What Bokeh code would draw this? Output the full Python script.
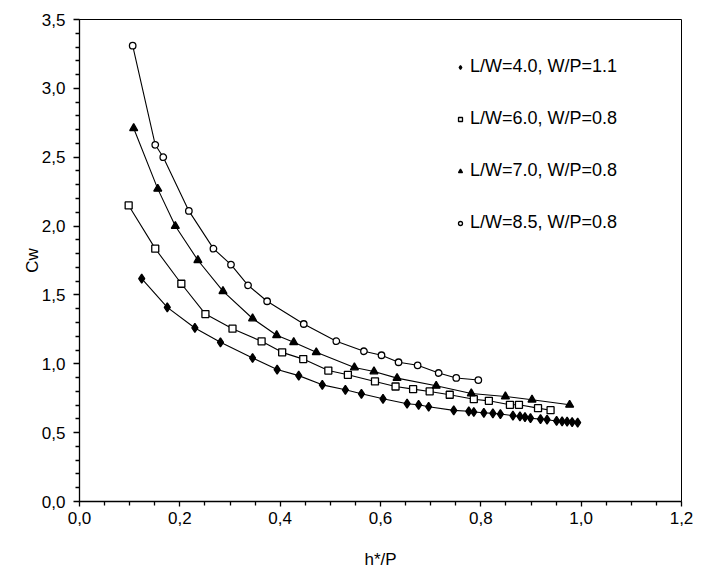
from bokeh.plotting import figure
from bokeh.models import CustomJSTickFormatter, Range1d, Legend, LegendItem, FixedTicker
from bokeh.embed import file_html
from bokeh.resources import INLINE

# Series data (h*/P, Cw)
x_lw40 = [0.124, 0.175, 0.230, 0.281, 0.345, 0.394, 0.437, 0.484, 0.530, 0.562, 0.605, 0.653,
          0.676, 0.696, 0.746, 0.776, 0.786, 0.806, 0.824, 0.839, 0.864, 0.878, 0.888, 0.899,
          0.919, 0.932, 0.951, 0.962, 0.972, 0.982, 0.993]
y_lw40 = [1.618, 1.410, 1.260, 1.156, 1.042, 0.958, 0.914, 0.847, 0.811, 0.782, 0.746, 0.710,
          0.702, 0.688, 0.662, 0.655, 0.650, 0.644, 0.640, 0.635, 0.623, 0.618, 0.613, 0.605,
          0.598, 0.594, 0.585, 0.582, 0.580, 0.577, 0.573]

x_lw60 = [0.098, 0.151, 0.203, 0.251, 0.305, 0.363, 0.404, 0.446, 0.496, 0.535, 0.589, 0.630,
          0.665, 0.698, 0.738, 0.786, 0.816, 0.858, 0.876, 0.914, 0.939]
y_lw60 = [2.150, 1.836, 1.581, 1.361, 1.255, 1.163, 1.083, 1.034, 0.951, 0.920, 0.872, 0.835,
          0.816, 0.799, 0.775, 0.743, 0.731, 0.702, 0.702, 0.678, 0.663]

x_lw70 = [0.108, 0.156, 0.191, 0.236, 0.286, 0.345, 0.393, 0.427, 0.472, 0.548, 0.587, 0.633,
          0.711, 0.781, 0.849, 0.902, 0.977]
y_lw70 = [2.710, 2.270, 2.000, 1.752, 1.527, 1.329, 1.207, 1.156, 1.083, 0.973, 0.944, 0.896,
          0.840, 0.784, 0.763, 0.739, 0.702]

x_lw85 = [0.106, 0.151, 0.167, 0.218, 0.267, 0.302, 0.336, 0.374, 0.447, 0.512, 0.567, 0.602,
          0.636, 0.674, 0.716, 0.751, 0.795]
y_lw85 = [3.310, 2.590, 2.500, 2.110, 1.836, 1.720, 1.570, 1.454, 1.289, 1.164, 1.091, 1.062,
          1.011, 0.989, 0.933, 0.897, 0.882]

labels = ["L/W=4.0, W/P=1.1", "L/W=6.0, W/P=0.8", "L/W=7.0, W/P=0.8", "L/W=8.5, W/P=0.8"]

x_ticks = [0.0, 0.2, 0.4, 0.6, 0.8, 1.0, 1.2]
x_minor = [0.05, 0.1, 0.15, 0.25, 0.3, 0.35, 0.45, 0.5, 0.55, 0.65, 0.7, 0.75,
           0.85, 0.9, 0.95, 1.05, 1.1, 1.15]
y_ticks = [0.0, 0.5, 1.0, 1.5, 2.0, 2.5, 3.0, 3.5]
y_minor = [0.1, 0.2, 0.3, 0.4, 0.6, 0.7, 0.8, 0.9, 1.1, 1.2, 1.3, 1.4, 1.6, 1.7, 1.8, 1.9,
           2.1, 2.2, 2.3, 2.4, 2.6, 2.7, 2.8, 2.9, 3.1, 3.2, 3.3, 3.4]

FONT = "Liberation Sans"

p = figure(width=700, height=574, output_backend="svg", toolbar_location=None,
           x_range=Range1d(0, 1.2), y_range=Range1d(0, 3.5),
           min_border_left=79, min_border_right=19, min_border_top=19, min_border_bottom=73)

p.xgrid.visible = False
p.ygrid.visible = False
p.outline_line_color = "black"
p.outline_line_width = 1
p.background_fill_color = "white"
p.border_fill_color = "white"

fmt = CustomJSTickFormatter(code="return tick.toFixed(1).replace('.', ',');")
p.xaxis[0].ticker = FixedTicker(ticks=x_ticks, minor_ticks=x_minor)
p.yaxis[0].ticker = FixedTicker(ticks=y_ticks, minor_ticks=y_minor)
for ax in (p.xaxis[0], p.yaxis[0]):
    ax.formatter = fmt
    ax.axis_line_color = "black"
    ax.axis_line_width = 1.3
    ax.major_tick_line_color = "black"
    ax.minor_tick_line_color = "black"
    ax.major_tick_line_width = 1.3
    ax.minor_tick_line_width = 1.3
    ax.major_tick_in = 0
    ax.minor_tick_in = 0
    ax.major_label_text_font = FONT
    ax.major_label_text_font_size = "17px"
    ax.major_label_text_color = "black"
    ax.axis_label_text_font = FONT
    ax.axis_label_text_font_size = "17px"
    ax.axis_label_text_font_style = "normal"
    ax.axis_label_text_color = "black"

p.xaxis[0].major_tick_out = 5
p.xaxis[0].minor_tick_out = 4
p.yaxis[0].major_tick_out = 6
p.yaxis[0].minor_tick_out = 4

p.xaxis.axis_label = "h*/P"
p.yaxis.axis_label = "Cw"
p.xaxis.major_label_standoff = 5
p.xaxis.axis_label_standoff = 23
p.yaxis.major_label_standoff = 8
p.yaxis.axis_label_standoff = -3

series = [
    (x_lw40, y_lw40, "diamond", 9, "black"),
    (x_lw60, y_lw60, "square", 7, "white"),
    (x_lw70, y_lw70, "triangle", 8, "black"),
    (x_lw85, y_lw85, "circle", 6.5, "white"),
]

items = []
for (xs, ys, mk, sz, fill), lab in zip(series, labels):
    p.line(xs, ys, line_color="black", line_width=1.1)
    r = p.scatter(xs, ys, marker=mk, size=sz, fill_color=fill, line_color="black", line_width=1.3)
    items.append(LegendItem(label=lab, renderers=[r]))

legend = Legend(items=items, location=(376, 268), orientation="vertical",
                border_line_color=None, background_fill_alpha=0,
                label_text_font=FONT, label_text_font_size="18px",
                label_text_color="black", glyph_width=10, glyph_height=20,
                label_height=20, spacing=31, padding=0, margin=0, label_standoff=5)
p.add_layout(legend)

open("out.html", "w").write(file_html(p, INLINE))
